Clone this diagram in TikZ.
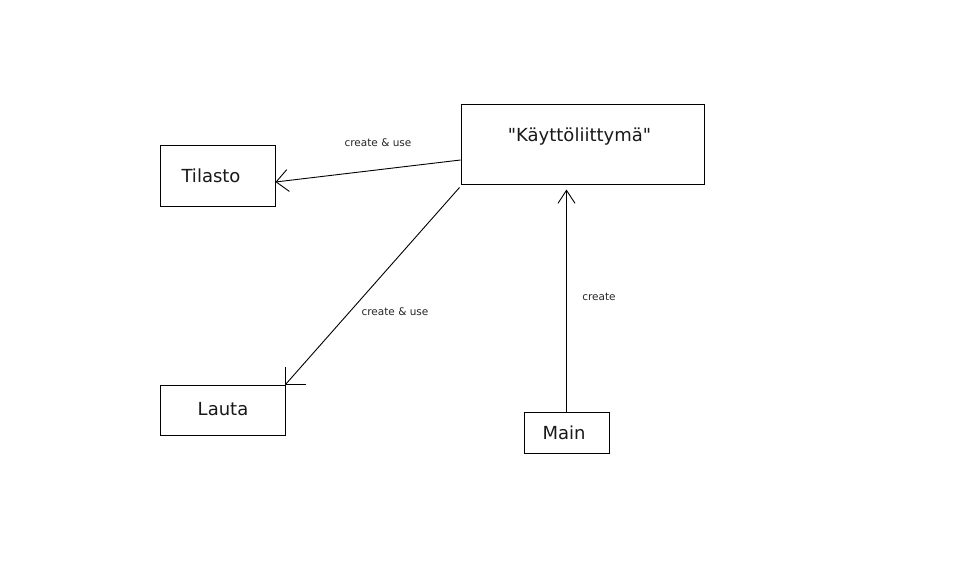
\documentclass[tikz,border=0pt]{standalone}
\usepackage{fontspec}
\setmainfont{DejaVu Sans}
\newfontfamily\dvplain{DejaVu Sans}
\usetikzlibrary{arrows.meta,calc}
\begin{document}
\begin{tikzpicture}[x=1pt,y=-1pt,
  box/.style={draw,line width=1pt,inner sep=0pt,minimum width=#1},
  big/.style={font=\fontsize{18}{20}\selectfont,text=black!90},
  small/.style={font=\fontsize{10.5}{12}\selectfont,text=black!85},
  conn/.style={line width=0.9pt},
  openhead/.style={-{Straight Barb[length=12pt,width=22pt,line width=0.9pt]}}]
\useasboundingbox[fill=white] (0,0) rectangle (975,583);
\node[box=115, minimum height=60, label={[big,xshift=-6.5pt,yshift=0pt]center:Tilasto}] (t) at (217.5,176) {};
\node[box=243, minimum height=80, label={[big,xshift=-3pt,yshift=8.5pt]center:{\dvplain "Käyttöliittymä"}}] (k) at (582.5,145) {};
\node[box=125, minimum height=50, label={[big,xshift=0.5pt,yshift=1pt]center:Lauta}] (l) at (222.5,410) {};
\node[box=85, minimum height=41, label={[big,xshift=-2.5pt,yshift=0pt]center:Main}] (m) at (566.5,432.5) {};
\draw[conn,openhead] ([yshift=-15pt]k.west) -- ([yshift=-6pt]t.east);
\draw[conn] ($(k.south west)+(-1,2)$) -- (l.north east);
\draw[conn] (l.north east) -- ++(0,-18);
\draw[conn] (l.north east) -- ++(20,0);
\draw[conn,-{Straight Barb[length=13pt,width=17pt,line width=0.9pt]}] (m.north) -- ($(m.north |- k.south)+(0,4)$);
\node[small] (c1) at (378,143) {create \& use};
\node[small] (c2) at (395,312) {create \& use};
\node[small] (c3) at (599,297) {create};
\end{tikzpicture}
\end{document}
